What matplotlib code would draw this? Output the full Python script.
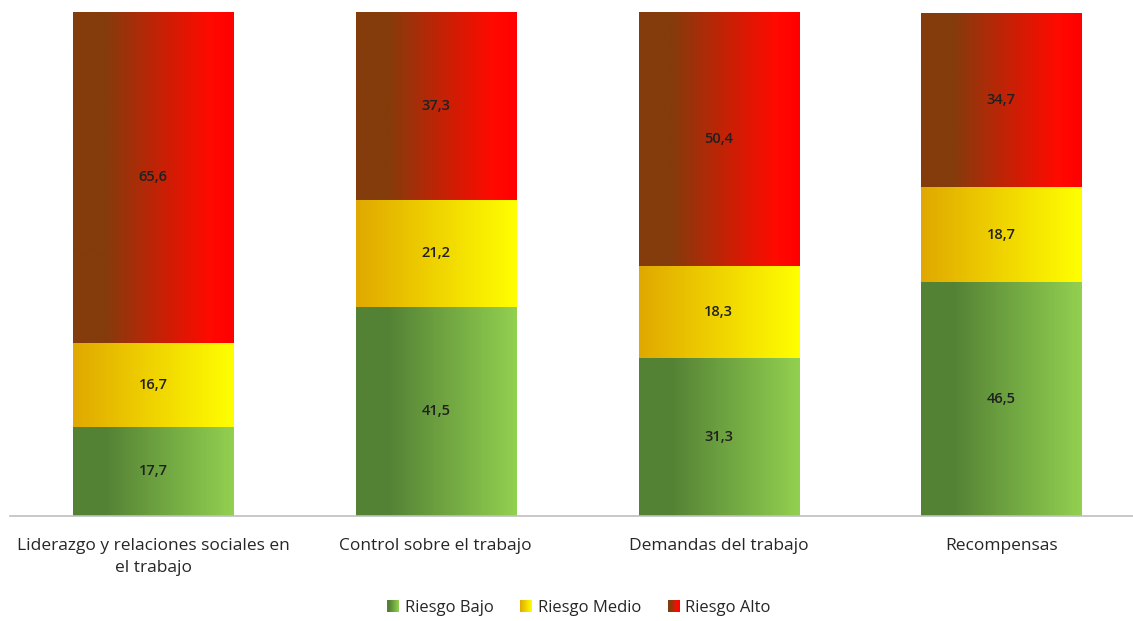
import numpy as np
import matplotlib
matplotlib.use('Agg')
from matplotlib import pyplot as plt
from matplotlib.colors import LinearSegmentedColormap
from matplotlib.patches import Patch
from matplotlib.legend_handler import HandlerPatch

categorias = ['Liderazgo y relaciones sociales en\nel trabajo', 'Control sobre el trabajo',
              'Demandas del trabajo', 'Recompensas']
riesgo_bajo = [17.7, 41.5, 31.3, 46.5]
riesgo_medio = [16.7, 21.2, 18.3, 18.7]
riesgo_alto = [65.6, 37.3, 50.4, 34.7]
series = ['Riesgo Bajo', 'Riesgo Medio', 'Riesgo Alto']

# degradados horizontales (oscuro a la izquierda, claro a la derecha)
grad_bajo = LinearSegmentedColormap.from_list('bajo', [(0, '#548235'), (0.2, '#548235'), (1, '#92d050')])
grad_medio = LinearSegmentedColormap.from_list('medio', [(0, '#e0a800'), (1, '#ffff00')])
grad_alto = LinearSegmentedColormap.from_list('alto', [(0, '#843c0c'), (0.2, '#843c0c'), (0.85, '#ff0a00'), (1, '#ff0000')])
cmaps = [grad_bajo, grad_medio, grad_alto]

plt.rcParams['font.family'] = ['Open Sans', 'DejaVu Sans']
fig = plt.figure(figsize=(11.33, 6.21), dpi=100)
ax = fig.add_axes([10/1133, 1-516/621, 1123/1133, 504/621])

x = np.arange(len(categorias))
ancho = 0.566
grad = np.linspace(0, 1, 256).reshape(1, -1)
base = np.zeros(len(categorias))
for vals, cm in zip([riesgo_bajo, riesgo_medio, riesgo_alto], cmaps):
    bars = ax.bar(x, vals, ancho, bottom=base, color='none', edgecolor='none')
    for b, v in zip(bars, vals):
        x0, y0 = b.get_x(), b.get_y()
        im = ax.imshow(grad, cmap=cm, aspect='auto', interpolation='bilinear',
                       extent=[x0, x0 + b.get_width(), y0, y0 + b.get_height()], zorder=1)
        im.set_clip_path(b)
        ax.text(x0 + b.get_width()/2, y0 + b.get_height()/2, f'{v:.1f}'.replace('.', ','),
                ha='center', va='center', fontsize=10.5, fontweight='semibold',
                color='#202020', zorder=3)
    base += np.array(vals)

ax.set_xlim(-0.506, 3.466)
ax.set_ylim(0, 100)
for s in ['top', 'right', 'left']:
    ax.spines[s].set_visible(False)
ax.spines['bottom'].set_color('#bfbfbf')
ax.spines['bottom'].set_linewidth(1.2)
ax.set_yticks([])
ax.set_xticks(x)
ax.set_xticklabels(categorias, fontsize=12.5, color='#262626', linespacing=1.45)
ax.tick_params(axis='x', length=0, pad=16)


class GradHandler(HandlerPatch):
    def __init__(self, cm):
        super().__init__()
        self.cm = cm

    def create_artists(self, legend, orig, xd, yd, w, h, fs, trans):
        arts = []
        n = 12
        for i in range(n):
            r = plt.Rectangle((xd + i*w/n, yd), w/n + 0.3, h, facecolor=self.cm((i + 0.5)/n),
                              edgecolor='none', transform=trans)
            arts.append(r)
        return arts


handles = [Patch(label=s) for s in series]
fig.legend(handles=handles, loc='center', bbox_to_anchor=(579/1133, 1-608/621), ncol=3,
           frameon=False, fontsize=12, handlelength=0.7, handleheight=0.7, columnspacing=1.6,
           handletextpad=0.35, labelcolor='#262626',
           handler_map={handles[i]: GradHandler(cmaps[i]) for i in range(3)})

fig.savefig('out.png', dpi=100)
